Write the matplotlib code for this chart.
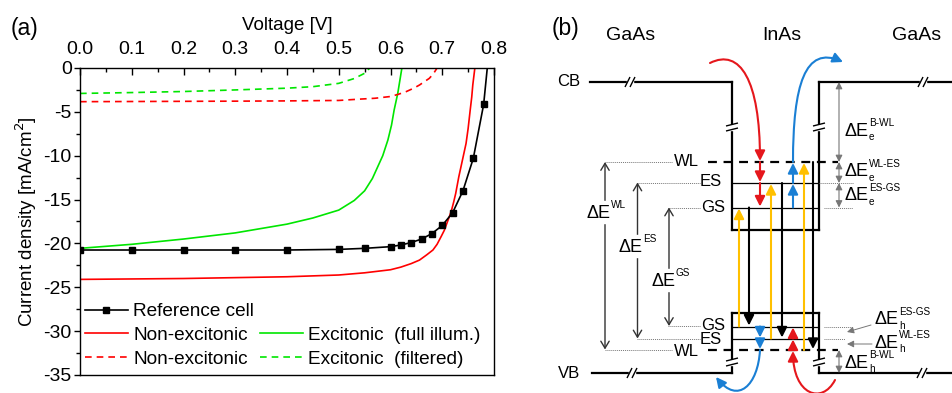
import matplotlib
matplotlib.use("Agg")
import matplotlib.pyplot as plt
from matplotlib.lines import Line2D
from matplotlib.patches import FancyArrowPatch, Rectangle
from matplotlib.path import Path
from matplotlib.ticker import MultipleLocator

plt.rcParams['font.family'] = ['Liberation Sans', 'DejaVu Sans']
plt.rcParams['axes.unicode_minus'] = False

# ---------------- data (panel a) ----------------
ref_v = [0.0, 0.1, 0.2, 0.3, 0.4, 0.5, 0.55, 0.60, 0.62, 0.64, 0.66, 0.68, 0.70, 0.72, 0.74, 0.76, 0.78]
ref_j = [-20.75, -20.75, -20.75, -20.75, -20.75, -20.68, -20.56, -20.37, -20.18, -19.9, -19.5,
         -18.88, -17.95, -16.5, -14.0, -10.3, -4.15]
ref_end_v = [0.787]
ref_end_j = [0.0]

nonexc_full_v = [0.0, 0.1, 0.2, 0.3, 0.4, 0.5, 0.55, 0.6, 0.62, 0.64, 0.656, 0.67, 0.682, 0.69,
                 0.698, 0.704, 0.709, 0.714, 0.718, 0.722, 0.726, 0.732, 0.739, 0.746, 0.750,
                 0.754, 0.757, 0.759, 0.763]
nonexc_full_j = [-24.1, -24.05, -24.0, -23.9, -23.8, -23.6, -23.35, -23.0, -22.7, -22.3, -21.9,
                 -21.3, -20.75, -20.1, -19.2, -18.5, -17.7, -16.9, -16.2, -15.3, -14.3, -12.4,
                 -10.5, -8.6, -6.9, -4.8, -3.3, -1.94, 0.0]

exc_full_v = [0.0, 0.1, 0.2, 0.3, 0.4, 0.45, 0.5, 0.53, 0.55, 0.565, 0.575, 0.585, 0.595,
              0.602, 0.607, 0.614, 0.622]
exc_full_j = [-20.56, -20.1, -19.5, -18.8, -17.8, -17.1, -16.2, -15.1, -14.0, -12.6, -11.3,
              -10.0, -8.2, -6.5, -4.8, -2.9, 0.0]

nonexc_filt_v = [0.0, 0.1, 0.2, 0.3, 0.4, 0.5, 0.54, 0.57, 0.6, 0.615, 0.63, 0.645, 0.656,
                 0.667, 0.675, 0.683, 0.69]
nonexc_filt_j = [-3.84, -3.82, -3.8, -3.78, -3.75, -3.7, -3.55, -3.45, -3.25, -3.0, -2.7, -2.3,
                 -1.94, -1.5, -1.18, -0.65, 0.0]

exc_filt_v = [0.0, 0.1, 0.2, 0.3, 0.4, 0.45, 0.5, 0.53, 0.55, 0.56]
exc_filt_j = [-2.9, -2.8, -2.68, -2.5, -2.3, -2.13, -1.75, -1.2, -0.6, 0.0]

x_ticks = [0.0, 0.1, 0.2, 0.3, 0.4, 0.5, 0.6, 0.7, 0.8]
y_ticks = [0, -5, -10, -15, -20, -25, -30, -35]

RED = '#ff0000'
GREEN = '#00e600'

W, H = 952, 393
fig = plt.figure(figsize=(W / 100, H / 100), dpi=100)

# ---------------- panel (a) ----------------
ax = fig.add_axes([80 / W, 1 - 375 / H, (494 - 80) / W, (375 - 68) / H])
ax.plot(ref_v + ref_end_v, ref_j + ref_end_j, color='black', lw=1.2, zorder=5)
ax.plot(ref_v, ref_j, ls='none', marker='s', ms=5, color='black', zorder=6)
ax.plot(nonexc_full_v, nonexc_full_j, color=RED, lw=1.2)
ax.plot(exc_full_v, exc_full_j, color=GREEN, lw=1.2)
ax.plot(nonexc_filt_v, nonexc_filt_j, color=RED, lw=1.2, ls=(0, (4, 3)))
ax.plot(exc_filt_v, exc_filt_j, color=GREEN, lw=1.2, ls=(0, (4, 3)))

ax.set_xlim(0, 0.8)
ax.set_ylim(-35, 0)
ax.xaxis.tick_top()
ax.xaxis.set_label_position('top')
ax.set_xticks(x_ticks)
ax.set_xticklabels([f'{v:.1f}' for v in x_ticks])
ax.xaxis.set_minor_locator(MultipleLocator(0.05))
ax.set_yticks(y_ticks)
ax.set_yticklabels([str(v) for v in y_ticks])
ax.yaxis.set_minor_locator(MultipleLocator(2.5))
ax.tick_params(axis='x', which='both', direction='in', top=True, bottom=False, labelsize=14, pad=7)
ax.tick_params(axis='x', which='major', length=5, width=1)
ax.tick_params(axis='x', which='minor', length=3, width=1)
ax.tick_params(axis='y', which='both', direction='out', left=True, right=False, labelsize=14, pad=2)
ax.tick_params(axis='y', which='major', length=4, width=1)
ax.tick_params(axis='y', which='minor', length=3, width=1)
for s in ax.spines.values():
    s.set_linewidth(1.0)
ax.set_xlabel('Voltage [V]', fontsize=13.5, labelpad=8)
ax.set_ylabel('Current density [mA/cm$^2$]', fontsize=13.5, labelpad=3)

h_ref = Line2D([], [], color='black', lw=1.2, marker='s', ms=5)
h_nf = Line2D([], [], color=RED, lw=1.2)
h_nd = Line2D([], [], color=RED, lw=1.2, ls=(0, (4, 3)))
h_blank = Line2D([], [], ls='none')
h_ef = Line2D([], [], color=GREEN, lw=1.2)
h_ed = Line2D([], [], color=GREEN, lw=1.2, ls=(0, (4, 3)))
ax.legend([h_ref, h_nf, h_nd, h_blank, h_ef, h_ed],
          ['Reference cell', 'Non-excitonic', 'Non-excitonic', ' ',
           'Excitonic  (full illum.)', 'Excitonic  (filtered)'],
          ncol=2, loc='lower left', bbox_to_anchor=(0.012, 0.024), frameon=False,
          fontsize=13.7, handlelength=2.26, handletextpad=0.27, columnspacing=0.3,
          labelspacing=0.33, borderpad=0, borderaxespad=0)

fig.text(24 / W, 1 - 28 / H, '(a)', fontsize=16.5, ha='center', va='center')

# ---------------- panel (b) ----------------
bx = fig.add_axes([540 / W, 0, (W - 540) / W, 1])
bx.set_xlim(540, W)
bx.set_ylim(H, 0)
bx.axis('off')

BLUE = '#1a7fd4'
DRED = '#e5171c'
YEL = '#ffc000'
GRAY = '#777777'
DGRAY = '#333333'


def line(x0, y0, x1, y1, **kw):
    kw.setdefault('solid_capstyle', 'projecting')
    bx.plot([x0, x1], [y0, y1], **kw)


def hbreak(x, y):
    bx.add_patch(Rectangle((x - 3, y - 3), 6, 6, color='white', zorder=3))
    for dx in (-2.5, 2.5):
        line(x + dx - 2.5, y + 5, x + dx + 2.5, y - 5, color='black', lw=1.0, zorder=4,
             solid_capstyle='butt')


def vbreak(x, y):
    bx.add_patch(Rectangle((x - 3, y - 2.5), 6, 5, color='white', zorder=3))
    for dy in (-2.5, 2.5):
        line(x - 6, y + dy + 1.5, x + 6, y + dy - 1.5, color='black', lw=1.0, zorder=4,
             solid_capstyle='butt')


def arrow(x0, y0, x1, y1, color, lw=1.5, style='-|>,head_length=0.6,head_width=0.3', ms=10, z=5):
    bx.add_patch(FancyArrowPatch((x0, y0), (x1, y1), arrowstyle=style, color=color, lw=lw,
                                 mutation_scale=ms, shrinkA=0, shrinkB=0, zorder=z))


def curve(pts, color):
    p = Path(pts, [Path.MOVETO, Path.CURVE4, Path.CURVE4, Path.CURVE4])
    bx.add_patch(FancyArrowPatch(path=p, arrowstyle='-|>,head_length=0.6,head_width=0.3',
                                 color=color, lw=1.5, mutation_scale=10, zorder=5))


def dE(x, y, sup, sub=None, fs=13):
    t = bx.text(x, y, 'ΔE', fontsize=fs, ha='left', va='center', zorder=6)
    bx.text(x + 24, y - 8, sup, fontsize=7.2, ha='left', va='center', zorder=6)
    if sub:
        bx.text(x + 24, y + 6, sub, fontsize=7.2, ha='left', va='center', zorder=6)
    return t


K = dict(color='black', lw=1.6)
# band edges
line(590, 82, 732, 82, **K)
line(732, 82, 732, 230, **K)
line(732, 230, 819, 230, **K)
line(819, 82, 819, 230, **K)
line(819, 82, 952, 82, **K)
line(732, 313, 819, 313, **K)
line(732, 313, 732, 373, **K)
line(819, 313, 819, 373, **K)
line(592, 373, 732, 373, **K)
line(819, 373, 952, 373, **K)
hbreak(630, 82)
hbreak(923, 82)
hbreak(632, 373)
hbreak(922, 373)
vbreak(732, 127)
vbreak(819, 127)
vbreak(732, 362)
vbreak(819, 362)

# wetting layer (dashed)
bx.plot([708, 838], [162, 162], color='black', lw=1.6, ls=(0, (4, 3)))
bx.plot([708, 838], [350, 350], color='black', lw=1.6, ls=(0, (4, 3)))
# confined levels
for yy in (183, 207.5, 326.5, 338.5):
    line(732, yy, 819, yy, color='black', lw=0.9, solid_capstyle='butt')

# dotted guides
G = dict(color=GRAY, lw=0.7, ls=(0, (1, 1)))
for (xa, xb, yy) in [(605, 672, 162), (637, 700, 182.5), (668, 700, 207.5),
                     (668, 700, 326), (637, 700, 338.5), (605, 672, 349.5),
                     (819, 853, 183), (824, 853, 207.5), (824, 853, 326.5), (824, 845, 338.5)]:
    bx.plot([xa, xb], [yy, yy], **G)

# level labels
for (txt, xx, yy) in [('WL', 686, 161), ('ES', 711, 182), ('GS', 713, 207),
                      ('GS', 713, 325), ('ES', 711, 339), ('WL', 686, 351)]:
    bx.text(xx, yy, txt, fontsize=12, ha='center', va='center')

# region labels
bx.text(566, 28, '(b)', fontsize=16.5, ha='center', va='center')
bx.text(631, 36, 'GaAs', fontsize=14, ha='center', va='center')
bx.text(782, 36, 'InAs', fontsize=14, ha='center', va='center')
bx.text(917, 36, 'GaAs', fontsize=14, ha='center', va='center')
bx.text(580, 82, 'CB', fontsize=12, ha='right', va='center')
bx.text(580, 373, 'VB', fontsize=12, ha='right', va='center')

# big double arrows (left)
OPEN = '<->,head_length=0.5,head_width=0.3'
arrow(605, 162, 605, 349.5, DGRAY, lw=1.0, style=OPEN, ms=10, z=2)
arrow(637.5, 182.5, 637.5, 338.5, DGRAY, lw=1.0, style=OPEN, ms=10, z=2)
arrow(669, 207.5, 669, 326, DGRAY, lw=1.0, style=OPEN, ms=10, z=2)
for (xx, yy, sup) in [(587, 213, 'WL'), (619, 247, 'ES'), (652, 281, 'GS')]:
    bx.add_patch(Rectangle((xx - 1, yy - 12), 37, 22, color='white', zorder=3))
    dE(xx, yy, sup)

# small double arrows (right)
SM = '<|-|>,head_length=0.5,head_width=0.25'
arrow(839, 82, 839, 162, GRAY, lw=0.8, style=SM, ms=8)
arrow(839, 162, 839, 183, GRAY, lw=0.8, style=SM, ms=8)
arrow(839, 183, 839, 207.5, GRAY, lw=0.8, style=SM, ms=8)
arrow(839, 350, 839, 373, GRAY, lw=0.8, style=SM, ms=8)
dE(845, 131, 'B-WL', 'e')
dE(845, 172, 'WL-ES', 'e')
dE(845, 196, 'ES-GS', 'e')
dE(875, 320, 'ES-GS', 'h')
dE(875, 343, 'WL-ES', 'h')
dE(845, 363, 'B-WL', 'h')
arrow(871, 325, 847, 332, GRAY, lw=0.7, style='-|>,head_length=0.5,head_width=0.25', ms=8)
arrow(872, 344, 847, 344, GRAY, lw=0.7, style='-|>,head_length=0.5,head_width=0.25', ms=8)

# yellow absorption arrows
arrow(739, 326.5, 739, 208.5, YEL)
arrow(771, 338.5, 771, 184, YEL)
arrow(804, 350, 804, 163, YEL)
# black recombination arrows
arrow(749, 207.5, 749, 325.5, 'black')
arrow(782, 183, 782, 337.5, 'black')
arrow(813, 162, 813, 349, 'black')
# red (electron capture, CB)
curve([(710, 63), (740, 48), (760, 80), (760, 161)], DRED)
arrow(760, 162, 760, 182, DRED)
arrow(760, 183, 760, 206.5, DRED)
# blue (electron escape, CB)
arrow(793, 207.5, 793, 184, BLUE)
arrow(793, 183, 793, 163, BLUE)
curve([(793, 162), (793, 85), (805, 45), (843, 62)], BLUE)
# blue (hole escape, VB)
arrow(760, 326.5, 760, 337.5, BLUE)
arrow(760, 338.5, 760, 349, BLUE)
curve([(760, 350), (758, 385), (738, 405), (716, 377)], BLUE)
# red (hole capture, VB)
arrow(793, 350, 793, 339.5, DRED)
arrow(793, 338.5, 793, 327.5, DRED)
curve([(835, 380), (822, 405), (793, 395), (793, 351)], DRED)

fig.savefig('out.png', dpi=100)
